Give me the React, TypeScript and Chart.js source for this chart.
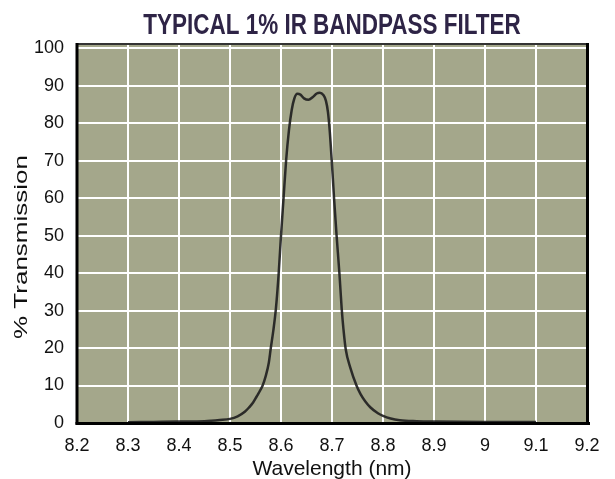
import React, { useEffect, useRef } from "react";
import { Chart, registerables } from "chart.js";

Chart.register(...registerables);

const TITLE = "TYPICAL 1% IR BANDPASS FILTER";
const X_TITLE = "Wavelength (nm)";
const Y_TITLE = "% Transmission";

const wavelength = [
  8.3, 8.35, 8.4, 8.45, 8.48, 8.5, 8.515, 8.529, 8.537, 8.545, 8.552, 8.558,
  8.564, 8.57, 8.576, 8.58, 8.585, 8.59, 8.5955, 8.6, 8.605, 8.61, 8.6155,
  8.621, 8.626, 8.632, 8.638, 8.645, 8.654, 8.662, 8.67, 8.676, 8.683, 8.688,
  8.692, 8.6955, 8.6995, 8.704, 8.709, 8.7145, 8.719, 8.7225, 8.727, 8.736,
  8.748, 8.756, 8.765, 8.775, 8.79, 8.8, 8.815, 8.833, 8.866, 8.9, 9.0, 9.1,
];
const transmission = [
  0.2, 0.3, 0.4, 0.5, 0.8, 1.1, 1.8, 3.0, 4.1, 5.4, 7.0, 8.4,
  10, 12.5, 16, 20, 24.7, 30.5, 40, 50, 60, 70, 78,
  83.5, 86.5, 87.8, 87.6, 86.6, 86.2, 86.9, 87.9, 88.1, 87.5, 86,
  83, 78, 70, 60, 50, 40, 30.5, 25, 19.6, 14.7,
  10, 7.7, 5.8, 4.2, 2.6, 1.9, 1.2, 0.75, 0.5, 0.4, 0.3, 0.3,
];

const xTicks = [8.2, 8.3, 8.4, 8.5, 8.6, 8.7, 8.8, 8.9, 9.0, 9.1, 9.2];
const xTickLabels = ["8.2", "8.3", "8.4", "8.5", "8.6", "8.7", "8.8", "8.9", "9", "9.1", "9.2"];
const yTicks = [0, 10, 20, 30, 40, 50, 60, 70, 80, 90, 100];
const yTickLabels = ["0", "10", "20", "30", "40", "50", "60", "70", "80", "90", "100"];

const PLOT_BG = "#a4a78b";
const FONT = "'Liberation Sans', Arial, sans-serif";

const plotPlugin = {
  id: "plotFrame",
  beforeDraw(chart: any) {
    const { ctx, chartArea: a } = chart;
    ctx.save();
    ctx.fillStyle = PLOT_BG;
    ctx.fillRect(a.left, a.top, a.right - a.left, a.bottom - a.top);
    ctx.restore();
  },
  afterDraw(chart: any) {
    const { ctx, chartArea: a } = chart;
    ctx.save();
    // frame
    ctx.fillStyle = "#333";
    ctx.fillRect(a.left, a.top - 1, a.right - a.left + 2, 2);
    ctx.fillStyle = "#000";
    ctx.fillRect(a.left - 1.5, a.top - 1, 3, a.bottom - a.top + 2.5);
    ctx.fillRect(a.right - 1, a.top - 1, 3, a.bottom - a.top + 2.5);
    ctx.fillRect(a.left - 1.5, a.bottom - 1, a.right - a.left + 4.5, 3);
    // chart title (condensed)
    const cx = (a.left + a.right) / 2;
    ctx.save();
    ctx.translate(cx, 33.5);
    ctx.scale(0.78, 1);
    ctx.fillStyle = "#2e2446";
    ctx.font = `bold 28.8px ${FONT}`;
    ctx.textAlign = "center";
    ctx.textBaseline = "alphabetic";
    ctx.fillText(TITLE, 0, 0);
    ctx.restore();
    // y axis title (rotated, thin)
    ctx.save();
    ctx.translate(22, 247);
    ctx.rotate(-Math.PI / 2);
    ctx.scale(1, 0.72);
    ctx.fillStyle = "#111";
    ctx.font = `26px ${FONT}`;
    ctx.textAlign = "center";
    ctx.textBaseline = "middle";
    ctx.fillText(Y_TITLE, 0, 0);
    ctx.restore();
    ctx.restore();
  },
};

export default function App() {
  const ref = useRef<HTMLCanvasElement | null>(null);

  useEffect(() => {
    if (!ref.current) return;
    const data = wavelength.map((w, i) => ({ x: w, y: transmission[i] }));
    const chart = new Chart(ref.current, {
      type: "line",
      data: {
        datasets: [
          {
            data,
            borderColor: "rgba(30,30,30,0.9)",
            borderWidth: 2.5,
            pointRadius: 0,
            fill: false,
            cubicInterpolationMode: "monotone",
          },
        ],
      },
      plugins: [plotPlugin],
      options: {
        animation: false,
        responsive: false,
        layout: { padding: { left: 0, right: 28, top: 44, bottom: 0 } },
        plugins: {
          legend: { display: false },
          tooltip: { enabled: false },
          title: { display: false },
        },
        scales: {
          x: {
            type: "linear",
            min: 8.2,
            max: 9.2,
            afterBuildTicks: (s: any) => {
              s.ticks = xTicks.map((v) => ({ value: v }));
            },
            afterFit: (s: any) => {
              s.height = 56;
            },
            ticks: {
              autoSkip: false,
              maxRotation: 0,
              color: "#111",
              padding: 12,
              font: { family: FONT, size: 18 },
              callback: (v: any) => {
                const i = xTicks.findIndex((t) => Math.abs(t - Number(v)) < 1e-6);
                return i >= 0 ? xTickLabels[i] : "";
              },
            },
            grid: { color: "#ffffff", lineWidth: 2, drawTicks: false },
            border: { display: false },
            title: {
              display: true,
              text: X_TITLE,
              color: "#111",
              font: { family: FONT, size: 21, lineHeight: 0.95 },
              padding: { top: 0, bottom: 0 },
            },
          },
          y: {
            type: "linear",
            min: 0,
            max: 101.1,
            afterBuildTicks: (s: any) => {
              s.ticks = yTicks.map((v) => ({ value: v }));
            },
            afterFit: (s: any) => {
              s.width = 77;
            },
            ticks: {
              color: "#111",
              padding: 13,
              font: { family: FONT, size: 18 },
              callback: (v: any) => {
                const i = yTicks.indexOf(Number(v));
                return i >= 0 ? yTickLabels[i] : "";
              },
            },
            grid: { color: "#ffffff", lineWidth: 2, drawTicks: false },
            border: { display: false },
            title: { display: false },
          },
        },
      },
    } as any);
    return () => chart.destroy();
  }, []);

  return (
    <div style={{ position: "fixed", left: 0, top: 0, width: 615, height: 479, background: "#fff" }}>
      <canvas ref={ref} width={615} height={479} style={{ display: "block" }} />
    </div>
  );
}
